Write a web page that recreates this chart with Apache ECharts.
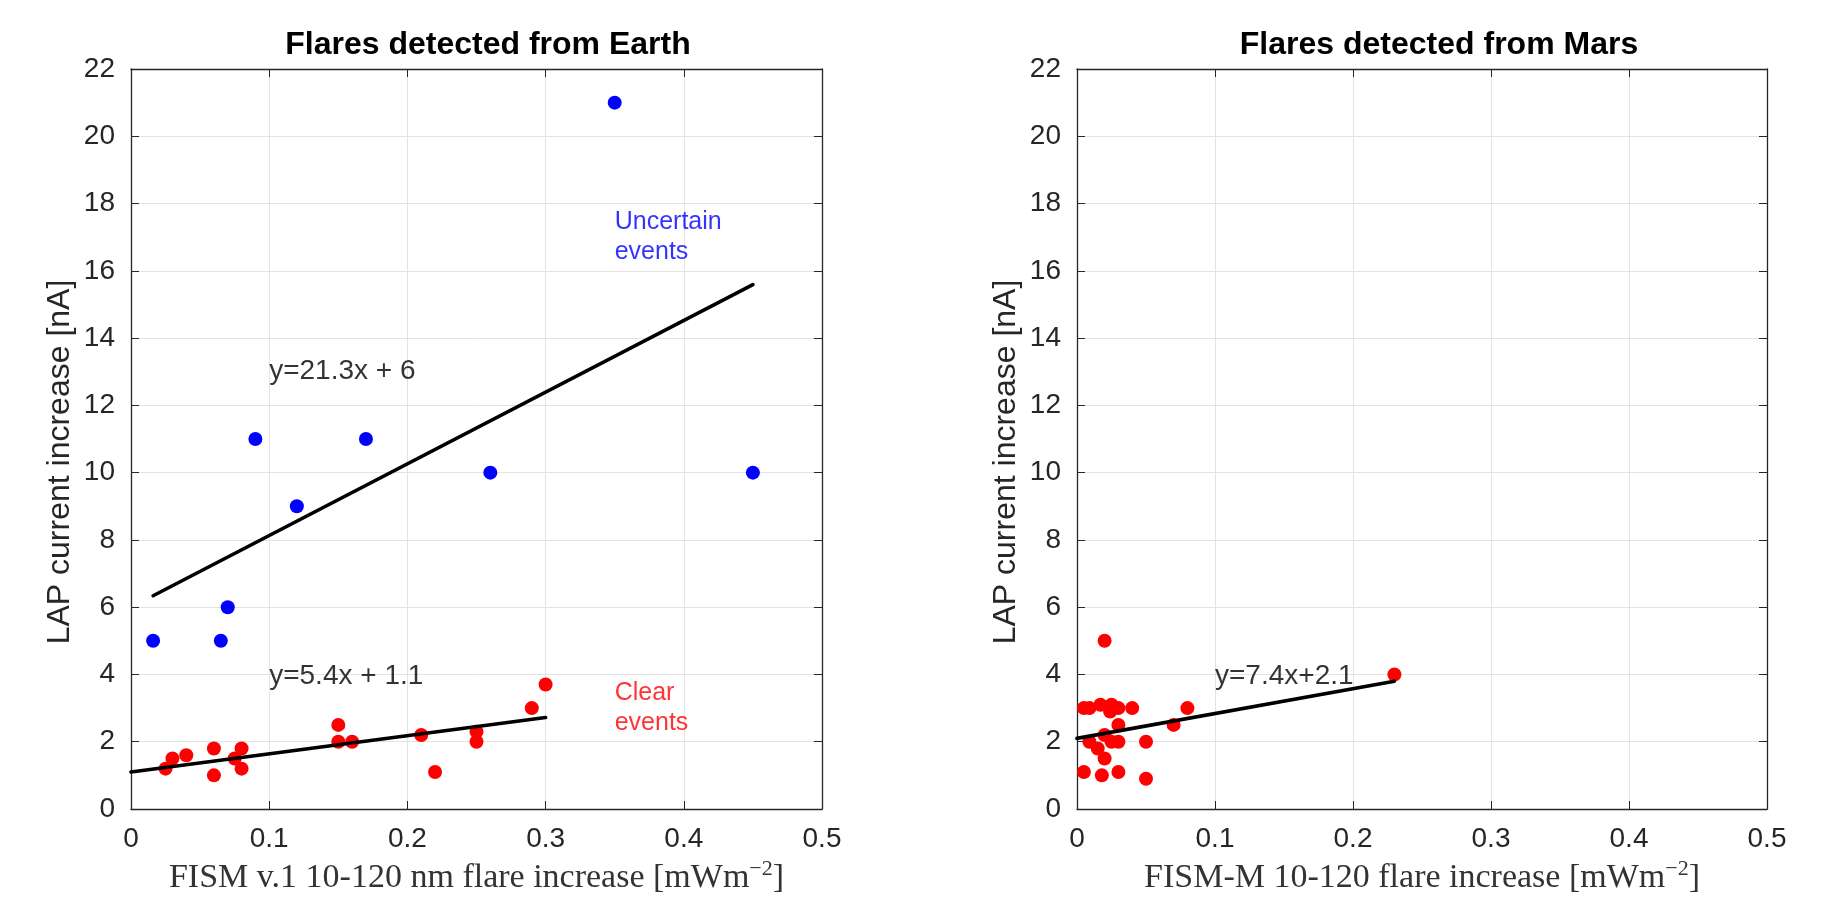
<!DOCTYPE html>
<html>
<head>
<meta charset="utf-8">
<title>Flares detected from Earth and Mars</title>
<script src="https://cdn.jsdelivr.net/npm/echarts@6/dist/echarts.min.js"></script>
<style>
  html, body { margin: 0; padding: 0; background: #fff; }
  #chart { width: 1825px; height: 920px; }
</style>
</head>
<body>
<div id="chart"></div>
<script>
// Earth: uncertain events (blue), [FISM increase, LAP increase]
const earthUncertain = [
  [0.016, 5], [0.065, 5], [0.07, 6], [0.09, 11], [0.12, 9],
  [0.17, 11], [0.26, 10], [0.35, 21], [0.45, 10]
]
// Earth: clear events (red)
const earthClear = [
  [0.025, 1.2], [0.03, 1.5], [0.04, 1.6], [0.06, 1.8], [0.06, 1.0],
  [0.075, 1.5], [0.08, 1.8], [0.08, 1.2], [0.15, 2.5], [0.15, 2.0],
  [0.16, 2.0], [0.21, 2.2], [0.22, 1.1], [0.25, 2.3], [0.25, 2.0],
  [0.29, 3.0], [0.30, 3.7]
]
// Mars events (red)
const marsEvents = [
  [0.005, 3], [0.009, 3], [0.017, 3.1], [0.02, 5], [0.025, 3.1],
  [0.024, 2.9], [0.03, 3], [0.04, 3], [0.005, 1.1], [0.009, 2.0],
  [0.015, 1.8], [0.02, 2.2], [0.02, 1.5], [0.018, 1.0], [0.025, 2.0],
  [0.03, 2.0], [0.03, 2.5], [0.03, 1.1], [0.05, 2.0], [0.05, 0.9],
  [0.07, 2.5], [0.08, 3.0], [0.23, 4.0]
]
// fitted lines, end points
const fitUncertain = [[0.016, 6.34], [0.45, 15.59]]
const fitClear = [[0, 1.1], [0.30, 2.72]]
const fitMars = [[0, 2.1], [0.23, 3.8]]

// text notes: [x, y, text]
const earthEqNotes = [[0.1, 13, 'y=21.3x + 6'], [0.1, 3.95, 'y=5.4x + 1.1']]
const earthBlueNote = [[0.35, 17, 'Uncertain\nevents']]
const earthRedNote = [[0.35, 3.0, 'Clear\nevents']]
const marsEqNotes = [[0.1, 3.95, 'y=7.4x+2.1']]

const titles = ['Flares detected from Earth', 'Flares detected from Mars']
const xNames = [
  'FISM v.1 10-120 nm flare increase [mWm{sup|−2}]',
  'FISM-M 10-120 flare increase [mWm{sup|−2}]'
]
const yName = 'LAP current increase [nA]'

const chart = echarts.init(document.getElementById('chart'))

const sans = 'Liberation Sans'
const serif = 'Liberation Serif'
const ink = '#262626'

function bottomX(i) {
  return {
    type: 'value', gridIndex: i, min: 0, max: 0.5, interval: 0.1,
    name: xNames[i], nameLocation: 'middle', nameGap: 47,
    nameTextStyle: {
      fontFamily: serif, fontSize: 34, color: '#333',
      rich: { sup: { fontFamily: serif, fontSize: 22, color: '#333', padding: [0, 0, 18, 0] } }
    },
    axisLine: { show: true, onZero: false, lineStyle: { color: ink, width: 1.3 } },
    axisTick: { show: true, inside: true, length: 8, lineStyle: { color: ink } },
    axisLabel: { fontFamily: sans, fontSize: 28, color: ink, margin: 16,
      formatter: v => (v === 0 ? '0' : v.toFixed(1)) },
    splitLine: { show: true, lineStyle: { color: '#e3e3e3', width: 1 } }
  }
}
function topX(i) {
  return {
    type: 'value', gridIndex: i, position: 'top', min: 0, max: 0.5, interval: 0.1,
    axisLine: { show: true, onZero: false, lineStyle: { color: ink, width: 1.3 } },
    axisTick: { show: true, inside: true, length: 8, lineStyle: { color: ink } },
    axisLabel: { show: false }, splitLine: { show: false }
  }
}
function leftY(i) {
  return {
    type: 'value', gridIndex: i, min: 0, max: 22, interval: 2,
    name: yName, nameLocation: 'middle', nameGap: 55,
    // right padding pushes the rotated text down a bit, like the original
    nameTextStyle: { fontFamily: sans, fontSize: 32, color: ink, padding: [0, 46, 0, 0] },
    axisLine: { show: true, onZero: false, lineStyle: { color: ink, width: 1.3 } },
    axisTick: { show: true, inside: true, length: 8, lineStyle: { color: ink } },
    axisLabel: { fontFamily: sans, fontSize: 28, color: ink, margin: 16 },
    splitLine: { show: true, lineStyle: { color: '#e3e3e3', width: 1 } }
  }
}
function rightY(i) {
  return {
    type: 'value', gridIndex: i, position: 'right', min: 0, max: 22, interval: 2,
    axisLine: { show: true, onZero: false, lineStyle: { color: ink, width: 1.3 } },
    axisTick: { show: true, inside: true, length: 8, lineStyle: { color: ink } },
    axisLabel: { show: false }, splitLine: { show: false }
  }
}

function dots(data, color, axis) {
  return {
    type: 'scatter', xAxisIndex: axis, yAxisIndex: axis, data: data,
    symbol: 'circle', symbolSize: 14, itemStyle: { color: color, opacity: 1 },
    z: 3
  }
}
function fitLine(data, axis) {
  return {
    type: 'line', xAxisIndex: axis, yAxisIndex: axis, data: data,
    showSymbol: false, symbol: 'none', lineStyle: { color: '#000', width: 3.6, cap: 'round' },
    z: 4
  }
}
function notes(data, color, size, axis) {
  return {
    type: 'scatter', xAxisIndex: axis, yAxisIndex: axis, symbolSize: 0,
    data: data.map(d => ({ value: [d[0], d[1]], text: d[2] })),
    label: {
      show: true, position: 'right', distance: 0, align: 'left',
      fontFamily: sans, fontSize: size, color: color, lineHeight: size * 1.2,
      formatter: p => p.data.text
    },
    silent: true, z: 5
  }
}

const option = {
  backgroundColor: '#fff',
  animation: false,
  title: [
    { text: titles[0], left: 483, top: 24, textAlign: 'center',
      textStyle: { fontFamily: sans, fontWeight: 'bold', fontSize: 32, color: '#000' } },
    { text: titles[1], left: 1434, top: 24, textAlign: 'center',
      textStyle: { fontFamily: sans, fontWeight: 'bold', fontSize: 32, color: '#000' } }
  ],
  grid: [
    { left: 131, top: 69, width: 691, height: 740 },
    { left: 1077, top: 69, width: 690, height: 740 }
  ],
  // axis order: 0 earth bottom/left, 1 mars bottom/left, 2 earth top/right, 3 mars top/right
  xAxis: [bottomX(0), bottomX(1), topX(0), topX(1)],
  yAxis: [leftY(0), leftY(1), rightY(0), rightY(1)],
  series: [
    dots(earthUncertain, '#0000ff', 0),
    dots(earthClear, '#ff0000', 0),
    fitLine(fitUncertain, 0),
    fitLine(fitClear, 0),
    notes(earthEqNotes, '#000', 28, 0),
    notes(earthBlueNote, '#0000ff', 25, 0),
    notes(earthRedNote, '#ff0000', 25, 0),
    dots(marsEvents, '#ff0000', 1),
    fitLine(fitMars, 1),
    notes(marsEqNotes, '#000', 28, 1)
  ]
}

chart.setOption(option)
</script>
</body>
</html>
